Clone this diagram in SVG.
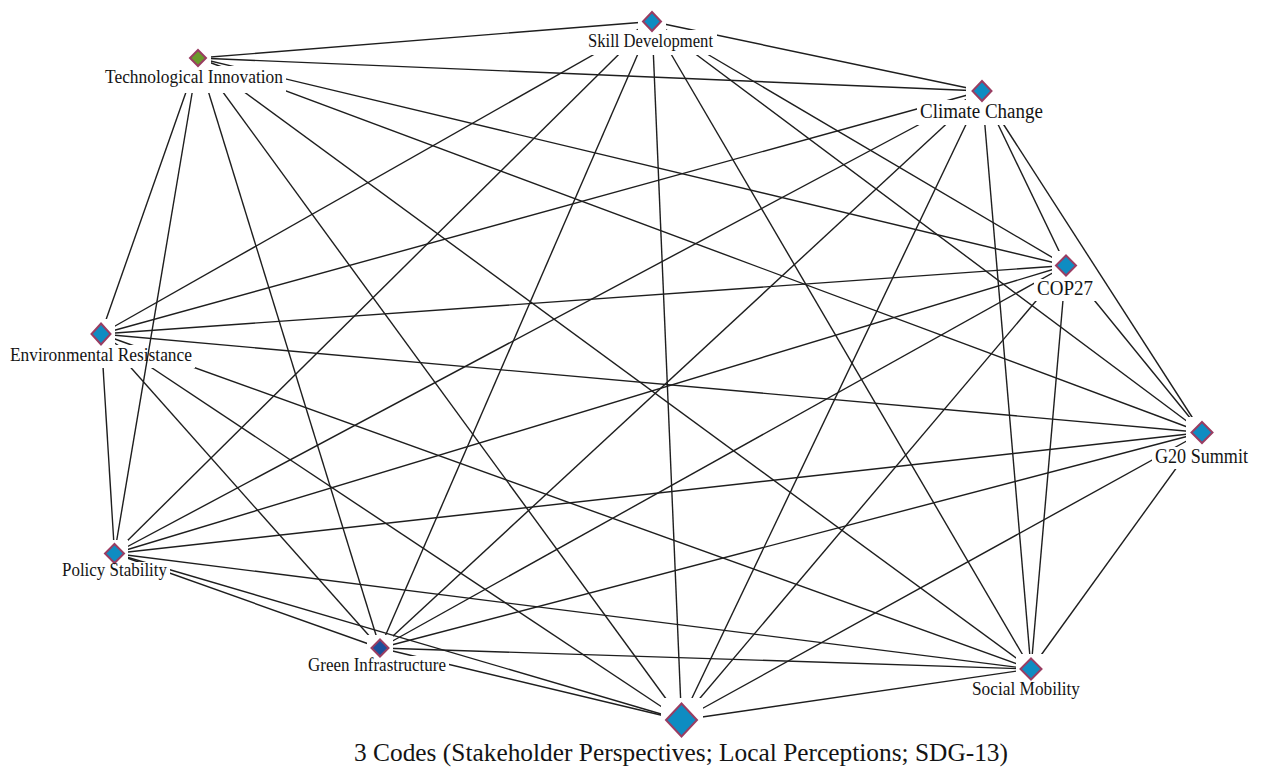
<svg xmlns="http://www.w3.org/2000/svg" width="1262" height="768" viewBox="0 0 1262 768">
<style>
.bg{fill:#ffffff}
.e{stroke:#1e1e1e;stroke-width:1.4;fill:none}
.d{fill:#0e8cc2;stroke:#9a3d62;stroke-width:2}
.dg{fill:#6a9a2c;stroke:#9a3d62;stroke-width:2}
.db{fill:#1c4f9c;stroke:#9a3d62;stroke-width:2}
.t{font-family:"Liberation Serif","Times New Roman",serif;fill:#141414;lengthAdjust:spacingAndGlyphs}
.m{fill:#000}
</style>
<defs>
<mask id="mA" maskUnits="userSpaceOnUse" x="0" y="0" width="1262" height="768"><rect x="0" y="0" width="1262" height="768" fill="#fff"/><rect class="m" x="638" y="7" width="28" height="30"/><rect class="m" x="585" y="30" width="132" height="25"/></mask>
<mask id="mB" maskUnits="userSpaceOnUse" x="0" y="0" width="1262" height="768"><rect x="0" y="0" width="1262" height="768" fill="#fff"/><rect class="m" x="185" y="45" width="26" height="26"/><rect class="m" x="102" y="66" width="184" height="27"/></mask>
<mask id="mC" maskUnits="userSpaceOnUse" x="0" y="0" width="1262" height="768"><rect x="0" y="0" width="1262" height="768" fill="#fff"/><rect class="m" x="966" y="76" width="32" height="30"/><rect class="m" x="917" y="100" width="129" height="25"/></mask>
<mask id="mD" maskUnits="userSpaceOnUse" x="0" y="0" width="1262" height="768"><rect x="0" y="0" width="1262" height="768" fill="#fff"/><rect class="m" x="1052" y="251" width="28" height="29"/><rect class="m" x="1034" y="279" width="62" height="22"/></mask>
<mask id="mE" maskUnits="userSpaceOnUse" x="0" y="0" width="1262" height="768"><rect x="0" y="0" width="1262" height="768" fill="#fff"/><rect class="m" x="87" y="319" width="28" height="30"/><rect class="m" x="7" y="345" width="188" height="23"/></mask>
<mask id="mF" maskUnits="userSpaceOnUse" x="0" y="0" width="1262" height="768"><rect x="0" y="0" width="1262" height="768" fill="#fff"/><rect class="m" x="1186" y="417" width="32" height="31"/><rect class="m" x="1152" y="447" width="99" height="22"/></mask>
<mask id="mG" maskUnits="userSpaceOnUse" x="0" y="0" width="1262" height="768"><rect x="0" y="0" width="1262" height="768" fill="#fff"/><rect class="m" x="101" y="540" width="27" height="27"/><rect class="m" x="59" y="562" width="111" height="21"/></mask>
<mask id="mH" maskUnits="userSpaceOnUse" x="0" y="0" width="1262" height="768"><rect x="0" y="0" width="1262" height="768" fill="#fff"/><rect class="m" x="367" y="635" width="26" height="26"/><rect class="m" x="305" y="656" width="144" height="21"/></mask>
<mask id="mI" maskUnits="userSpaceOnUse" x="0" y="0" width="1262" height="768"><rect x="0" y="0" width="1262" height="768" fill="#fff"/><rect class="m" x="1016" y="654" width="30" height="30"/><rect class="m" x="969" y="680" width="114" height="21"/></mask>
<mask id="mJ" maskUnits="userSpaceOnUse" x="0" y="0" width="1262" height="768"><rect x="0" y="0" width="1262" height="768" fill="#fff"/><rect class="m" x="661" y="698" width="42" height="44"/><rect class="m" x="350" y="740" width="662" height="28"/></mask>
</defs>
<rect class="bg" x="0" y="0" width="1262" height="768"/>
<g id="connectors">
<g mask="url(#mA)">
<line class="e" x1="652" y1="21.5" x2="198" y2="58" mask="url(#mB)"/>
<line class="e" x1="652" y1="21.5" x2="982" y2="91" mask="url(#mC)"/>
<line class="e" x1="652" y1="21.5" x2="1066" y2="265.5" mask="url(#mD)"/>
<line class="e" x1="652" y1="21.5" x2="101" y2="334" mask="url(#mE)"/>
<line class="e" x1="652" y1="21.5" x2="1202" y2="432.5" mask="url(#mF)"/>
<line class="e" x1="652" y1="21.5" x2="114.5" y2="553.5" mask="url(#mG)"/>
<line class="e" x1="652" y1="21.5" x2="380" y2="648" mask="url(#mH)"/>
<line class="e" x1="652" y1="21.5" x2="1031" y2="669" mask="url(#mI)"/>
<line class="e" x1="652" y1="21.5" x2="681.5" y2="720" mask="url(#mJ)"/>
</g>
<g mask="url(#mB)">
<line class="e" x1="198" y1="58" x2="982" y2="91" mask="url(#mC)"/>
<line class="e" x1="198" y1="58" x2="1066" y2="265.5" mask="url(#mD)"/>
<line class="e" x1="198" y1="58" x2="101" y2="334" mask="url(#mE)"/>
<line class="e" x1="198" y1="58" x2="1202" y2="432.5" mask="url(#mF)"/>
<line class="e" x1="198" y1="58" x2="114.5" y2="553.5" mask="url(#mG)"/>
<line class="e" x1="198" y1="58" x2="380" y2="648" mask="url(#mH)"/>
<line class="e" x1="198" y1="58" x2="1031" y2="669" mask="url(#mI)"/>
<line class="e" x1="198" y1="58" x2="681.5" y2="720" mask="url(#mJ)"/>
</g>
<g mask="url(#mC)">
<line class="e" x1="982" y1="91" x2="1066" y2="265.5" mask="url(#mD)"/>
<line class="e" x1="982" y1="91" x2="101" y2="334" mask="url(#mE)"/>
<line class="e" x1="982" y1="91" x2="1202" y2="432.5" mask="url(#mF)"/>
<line class="e" x1="982" y1="91" x2="114.5" y2="553.5" mask="url(#mG)"/>
<line class="e" x1="982" y1="91" x2="380" y2="648" mask="url(#mH)"/>
<line class="e" x1="982" y1="91" x2="1031" y2="669" mask="url(#mI)"/>
<line class="e" x1="982" y1="91" x2="681.5" y2="720" mask="url(#mJ)"/>
</g>
<g mask="url(#mD)">
<line class="e" x1="1066" y1="265.5" x2="101" y2="334" mask="url(#mE)"/>
<line class="e" x1="1066" y1="265.5" x2="1202" y2="432.5" mask="url(#mF)"/>
<line class="e" x1="1066" y1="265.5" x2="114.5" y2="553.5" mask="url(#mG)"/>
<line class="e" x1="1066" y1="265.5" x2="380" y2="648" mask="url(#mH)"/>
<line class="e" x1="1066" y1="265.5" x2="1031" y2="669" mask="url(#mI)"/>
<line class="e" x1="1066" y1="265.5" x2="681.5" y2="720" mask="url(#mJ)"/>
</g>
<g mask="url(#mE)">
<line class="e" x1="101" y1="334" x2="1202" y2="432.5" mask="url(#mF)"/>
<line class="e" x1="101" y1="334" x2="114.5" y2="553.5" mask="url(#mG)"/>
<line class="e" x1="101" y1="334" x2="380" y2="648" mask="url(#mH)"/>
<line class="e" x1="101" y1="334" x2="1031" y2="669" mask="url(#mI)"/>
<line class="e" x1="101" y1="334" x2="681.5" y2="720" mask="url(#mJ)"/>
</g>
<g mask="url(#mF)">
<line class="e" x1="1202" y1="432.5" x2="114.5" y2="553.5" mask="url(#mG)"/>
<line class="e" x1="1202" y1="432.5" x2="380" y2="648" mask="url(#mH)"/>
<line class="e" x1="1202" y1="432.5" x2="1031" y2="669" mask="url(#mI)"/>
<line class="e" x1="1202" y1="432.5" x2="681.5" y2="720" mask="url(#mJ)"/>
</g>
<g mask="url(#mG)">
<line class="e" x1="114.5" y1="553.5" x2="380" y2="648" mask="url(#mH)"/>
<line class="e" x1="114.5" y1="553.5" x2="1031" y2="669" mask="url(#mI)"/>
<line class="e" x1="114.5" y1="553.5" x2="681.5" y2="720" mask="url(#mJ)"/>
</g>
<g mask="url(#mH)">
<line class="e" x1="380" y1="648" x2="1031" y2="669" mask="url(#mI)"/>
<line class="e" x1="380" y1="648" x2="681.5" y2="720" mask="url(#mJ)"/>
</g>
<g mask="url(#mI)">
<line class="e" x1="1031" y1="669" x2="681.5" y2="720" mask="url(#mJ)"/>
</g>
</g>
<g id="node-skill-development">
<polygon class="d" points="652,12 661,21.5 652,31 643,21.5"/>
<text class="t" x="588" y="47" font-size="19" textLength="125" lengthAdjust="spacingAndGlyphs">Skill Development</text>
</g>
<g id="node-technological-innovation">
<polygon class="dg" points="198,50 206,58 198,66 190,58"/>
<text class="t" x="105" y="83" font-size="19" textLength="178" lengthAdjust="spacingAndGlyphs">Technological Innovation</text>
</g>
<g id="node-climate-change">
<polygon class="d" points="982,81 991.5,91 982,101 972.5,91"/>
<text class="t" x="920" y="118" font-size="20" textLength="123" lengthAdjust="spacingAndGlyphs">Climate Change</text>
</g>
<g id="node-cop27">
<polygon class="d" points="1066,255.5 1076,265.5 1066,275.5 1056,265.5"/>
<text class="t" x="1037" y="295" font-size="20" textLength="56" lengthAdjust="spacingAndGlyphs">COP27</text>
</g>
<g id="node-environmental-resistance">
<polygon class="d" points="101,323.5 110.5,334 101,344.5 91.5,334"/>
<text class="t" x="10" y="361" font-size="19" textLength="182" lengthAdjust="spacingAndGlyphs">Environmental Resistance</text>
</g>
<g id="node-g20-summit">
<polygon class="d" points="1202,422 1212.5,432.5 1202,443 1191.5,432.5"/>
<text class="t" x="1155" y="463" font-size="20" textLength="93" lengthAdjust="spacingAndGlyphs">G20 Summit</text>
</g>
<g id="node-policy-stability">
<polygon class="d" points="114.5,544 124,553.5 114.5,563 105,553.5"/>
<text class="t" x="62" y="576" font-size="19" textLength="105" lengthAdjust="spacingAndGlyphs">Policy Stability</text>
</g>
<g id="node-green-infrastructure">
<polygon class="db" points="380,639.5 388.5,648 380,656.5 371.5,648"/>
<text class="t" x="308" y="671" font-size="19" textLength="138" lengthAdjust="spacingAndGlyphs">Green Infrastructure</text>
</g>
<g id="node-social-mobility">
<polygon class="d" points="1031,658.5 1041.5,669 1031,679.5 1020.5,669"/>
<text class="t" x="972" y="695" font-size="19" textLength="108" lengthAdjust="spacingAndGlyphs">Social Mobility</text>
</g>
<g id="node-3-codes">
<polygon class="d" points="681.5,703.5 697,720 681.5,736.5 666,720"/>
<text class="t" x="354" y="761" font-size="26" textLength="654" lengthAdjust="spacingAndGlyphs">3 Codes (Stakeholder Perspectives; Local Perceptions; SDG-13)</text>
</g>
</svg>
